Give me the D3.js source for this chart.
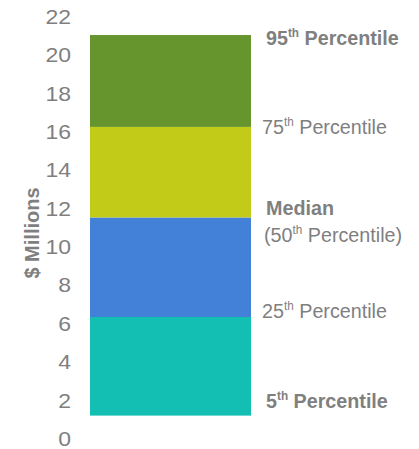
<!DOCTYPE html>
<html>
<head>
<meta charset="utf-8">
<script src="https://cdn.jsdelivr.net/npm/d3@7"></script>
<style>
  body { margin: 0; background: #fff; }
  text { font-family: "Liberation Sans", Arial, sans-serif; fill: #7f7f7f; }
</style>
</head>
<body>
<script>
// percentile values in $ millions
const percentiles = ["5th", "25th", "50th", "75th", "95th"]
const values = [1.22, 6.36, 11.55, 16.27, 21.06]
const bandColors = ["#13bfb2", "#4381d8", "#c3cb19", "#66952e"]
const yTicks = [0, 2, 4, 6, 8, 10, 12, 14, 16, 18, 20, 22]

// label text for each percentile
const labels = [
    { num: "5", rest: " Percentile", bold: true },
    { num: "25", rest: " Percentile", bold: false },
    { pre: "Median", num: "(50", rest: " Percentile)", bold: false },
    { num: "75", rest: " Percentile", bold: false },
    { num: "95", rest: " Percentile", bold: true }
]

function main(){
    var width = 419;
    var height = 449;

    let svg = d3.select("body")
        .append('svg')
        .attr('width', width)
        .attr('height', height)

    let yScale = d3.scaleLinear()
        .domain([0, 22])
        .range([439, 17]);

    let xScale = d3.scaleBand()
        .domain(["dist"])
        .range([90, 251])
        .padding(0)

    // y axis, labels only
    let yAxisGenerator = d3.axisLeft(yScale)
        .tickValues(yTicks)
        .tickSize(0)
        .tickPadding(8)
    let yAxis = svg.append('g')
        .attr("transform", `translate(${79},0)`)
        .call(yAxisGenerator)
    yAxis.select('.domain').remove()
    yAxis.selectAll('text')
        .attr('x', 0)
        .attr('transform', 'translate(-8,0) scale(1.15,1)')
        .style('font-size', '20px')
        .style('font-family', '"Liberation Sans", Arial, sans-serif')
        .attr('fill', '#7f7f7f')

    svg.append('text')
        .attr('transform', `translate(39,233) rotate(-90)`)
        .attr('text-anchor', 'middle')
        .style('font-size', '20px')
        .style('font-weight', 'bold')
        .text('$ Millions')

    // stacked bands between consecutive percentiles
    const bands = d3.range(values.length - 1).map(i => ({
        lo: values[i], hi: values[i + 1], color: bandColors[i]
    }))
    svg.selectAll('rect.band')
        .data(bands)
        .enter()
        .append('rect')
        .attr('class', 'band')
        .attr('x', xScale("dist"))
        .attr('width', xScale.bandwidth())
        .attr('y', d => yScale(d.hi))
        .attr('height', d => yScale(d.lo) - yScale(d.hi))
        .attr('fill', d => d.color)

    // labels next to each percentile
    const labelDy = [-8, 1, 25, 7, 10]
    labels.forEach((l, i) => {
        let x = l.bold ? 266 : 262
        let y = yScale(values[i]) + labelDy[i]
        if (l.pre) {
            svg.append('text')
                .attr('transform', `translate(266,${y - 27.5}) scale(0.94,1)`)
                .style('font-size', '21px')
                .style('font-weight', 'bold')
                .text(l.pre)
            x = 264
        }
        let t = svg.append('text')
            .attr('transform', `translate(${x},${y}) scale(0.94,1)`)
            .style('font-size', '21px')
            .style('font-weight', l.bold ? 'bold' : 'normal')
        t.append('tspan').text(l.num)
        t.append('tspan').attr('dy', -8).style('font-size', '12.5px').text('th')
        t.append('tspan').attr('dy', 8).text(l.rest)
    })
}

main()
</script>
</body>
</html>
